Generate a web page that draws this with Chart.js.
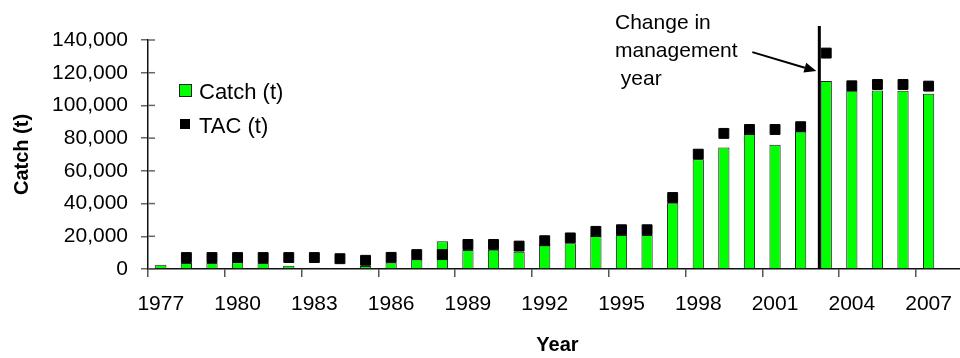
<!DOCTYPE html>
<html>
<head>
<meta charset="utf-8">
<script src="https://cdn.jsdelivr.net/npm/chart.js@4/dist/chart.umd.min.js"></script>
<style>
  html, body { margin: 0; padding: 0; background: #fff; overflow: hidden; }
  #wrap { width: 960px; height: 358px; overflow: hidden; }
</style>
</head>
<body>
<div id="wrap"><canvas id="catch-chart" width="975" height="358"></canvas></div>
<script>
const YEARS = [
    "1977", "1978", "1979", "1980", "1981", "1982", "1983", "1984",
    "1985", "1986", "1987", "1988", "1989", "1990", "1991", "1992",
    "1993", "1994", "1995", "1996", "1997", "1998", "1999", "2000",
    "2001", "2002", "2003", "2004", "2005", "2006", "2007", "2008",
];
const YEAR_LABELS = ["1977", "1980", "1983", "1986", "1989", "1992", "1995", "1998", "2001", "2004", "2007"];

const CATCH = [
    2600, 3700, 3600, 4100, 3700, 2000, 700, 600,
    1800, 4000, 5800, 17000, 11600, 11800, 10600, 15100,
    15700, 20200, 20800, 20800, 40500, 67100, 74300, 82500,
    76000, 84100, 115000, 109000, 109100, 109000, 107100, null,
];
const TAC = [
    null, 7000, 7000, 7000, 7000, 7000, 7000, 6300,
    5300, 7100, 8800, 8800, 15000, 15000, 14000, 17300,
    19000, 23000, 24000, 24000, 43700, 70200, 82900, 85300,
    85300, 87000, 132000, 112000, 112800, 112800, 111800, null,
];

const Y_TICKS = [0, 20000, 40000, 60000, 80000, 100000, 120000, 140000];
const NOTE_LINES = ["Change in", "management", " year"];

const FONT = "'Liberation Sans', Arial, sans-serif";
Chart.defaults.font.family = FONT;
Chart.defaults.color = "#000";

// extra drawing: inner half of y ticks, the management-year line + arrow, note text, legend
const extras = {
    id: "extras",
    afterDraw(chart) {
        const { ctx, chartArea, scales: { x, y } } = chart;
        ctx.save();

        ctx.strokeStyle = "#666";
        ctx.lineWidth = 1.5;
        y.ticks.forEach(t => {
            const py = y.getPixelForValue(t.value);
            ctx.beginPath();
            ctx.moveTo(chartArea.left, py);
            ctx.lineTo(chartArea.left + 7, py);
            ctx.stroke();
        });

        const step = x.getPixelForValue(1) - x.getPixelForValue(0);
        const lx = x.getPixelForValue(YEARS.indexOf("2003")) - step * 0.27;
        ctx.strokeStyle = "#000";
        ctx.lineWidth = 3;
        ctx.beginPath();
        ctx.moveTo(lx, chartArea.top - 14);
        ctx.lineTo(lx, chartArea.bottom);
        ctx.stroke();

        // arrow pointing at the line
        const tipX = lx - 3, tipY = y.getPixelForValue(121000);
        const tailX = lx - 67, tailY = y.getPixelForValue(132600);
        const ang = Math.atan2(tipY - tailY, tipX - tailX);
        const headLen = 12, headW = 5;
        const bx = tipX - headLen * Math.cos(ang), by = tipY - headLen * Math.sin(ang);
        ctx.lineWidth = 2;
        ctx.beginPath();
        ctx.moveTo(tailX, tailY);
        ctx.lineTo(bx, by);
        ctx.stroke();
        ctx.fillStyle = "#000";
        ctx.beginPath();
        ctx.moveTo(tipX, tipY);
        ctx.lineTo(bx + headW * Math.sin(ang), by - headW * Math.cos(ang));
        ctx.lineTo(bx - headW * Math.sin(ang), by + headW * Math.cos(ang));
        ctx.closePath();
        ctx.fill();

        ctx.font = "21px " + FONT;
        ctx.textAlign = "left";
        ctx.textBaseline = "alphabetic";
        NOTE_LINES.forEach((s, i) => ctx.fillText(s, 615, 29 + i * 28));

        // legend
        const [bars, tac] = chart.data.datasets;
        ctx.font = "22px " + FONT;
        ctx.fillStyle = bars.backgroundColor;
        ctx.fillRect(179, 84, 13, 13);
        ctx.strokeStyle = "#222";
        ctx.lineWidth = 1;
        ctx.strokeRect(179.5, 84.5, 12, 12);
        ctx.fillStyle = "#000";
        ctx.fillText(bars.label, 199, 99);
        ctx.fillStyle = tac.backgroundColor;
        ctx.fillRect(180, 119, 10, 10);
        ctx.fillStyle = "#000";
        ctx.fillText(tac.label, 199, 133);

        ctx.restore();
    }
};

new Chart(document.getElementById("catch-chart"), {
    type: "bar",
    data: {
        labels: YEARS,
        datasets: [
            {
                label: "Catch (t)",
                data: CATCH,
                backgroundColor: "#00ff00",
                borderColor: "#222",
                borderWidth: 1,
                barPercentage: 0.44,
                categoryPercentage: 1,
                order: 2,
            },
            {
                type: "line",
                label: "TAC (t)",
                data: TAC,
                showLine: false,
                pointStyle: "rect",
                pointRadius: 7,
                backgroundColor: "#000",
                borderColor: "#000",
                borderWidth: 1,
                order: 1,
            },
        ],
    },
    options: {
        responsive: false,
        animation: false,
        devicePixelRatio: 1,
        events: [],
        layout: { padding: { top: 40, right: 4, left: 0, bottom: 0 } },
        plugins: {
            legend: { display: false },
            tooltip: { enabled: false },
        },
        scales: {
            x: {
                offset: true,
                afterFit: s => { s.height = 89; },
                border: { color: "#111", width: 1.5 },
                grid: {
                    offset: true,
                    drawOnChartArea: false,
                    tickLength: 8,
                    lineWidth: 1.5,
                    tickColor: c => c.index % 3 === 0 ? "#555" : "rgba(0,0,0,0)",
                },
                ticks: {
                    autoSkip: false,
                    maxRotation: 0,
                    padding: 15,
                    font: { size: 21 },
                    callback: function (val) {
                        const lab = this.getLabelForValue(val);
                        return YEAR_LABELS.includes(lab) ? lab : "";
                    },
                },
                title: {
                    display: true,
                    text: "Year",
                    font: { size: 20, weight: "bold" },
                    padding: { top: 0, bottom: 1 },
                },
            },
            y: {
                min: 0,
                max: 140000,
                afterFit: s => { s.width = 148; },
                afterBuildTicks: s => { s.ticks = Y_TICKS.map(v => ({ value: v })); },
                border: { color: "#111", width: 1.5 },
                grid: { drawOnChartArea: false, tickLength: 7, lineWidth: 1.5, tickColor: "#666" },
                ticks: {
                    padding: 13,
                    font: { size: 21 },
                    callback: v => v.toLocaleString("en-US"),
                },
                title: {
                    display: true,
                    text: "Catch (t)",
                    font: { size: 20, weight: "bold" },
                    padding: { top: 10, bottom: 0 },
                },
            },
        },
    },
    plugins: [extras],
});
</script>
</body>
</html>
